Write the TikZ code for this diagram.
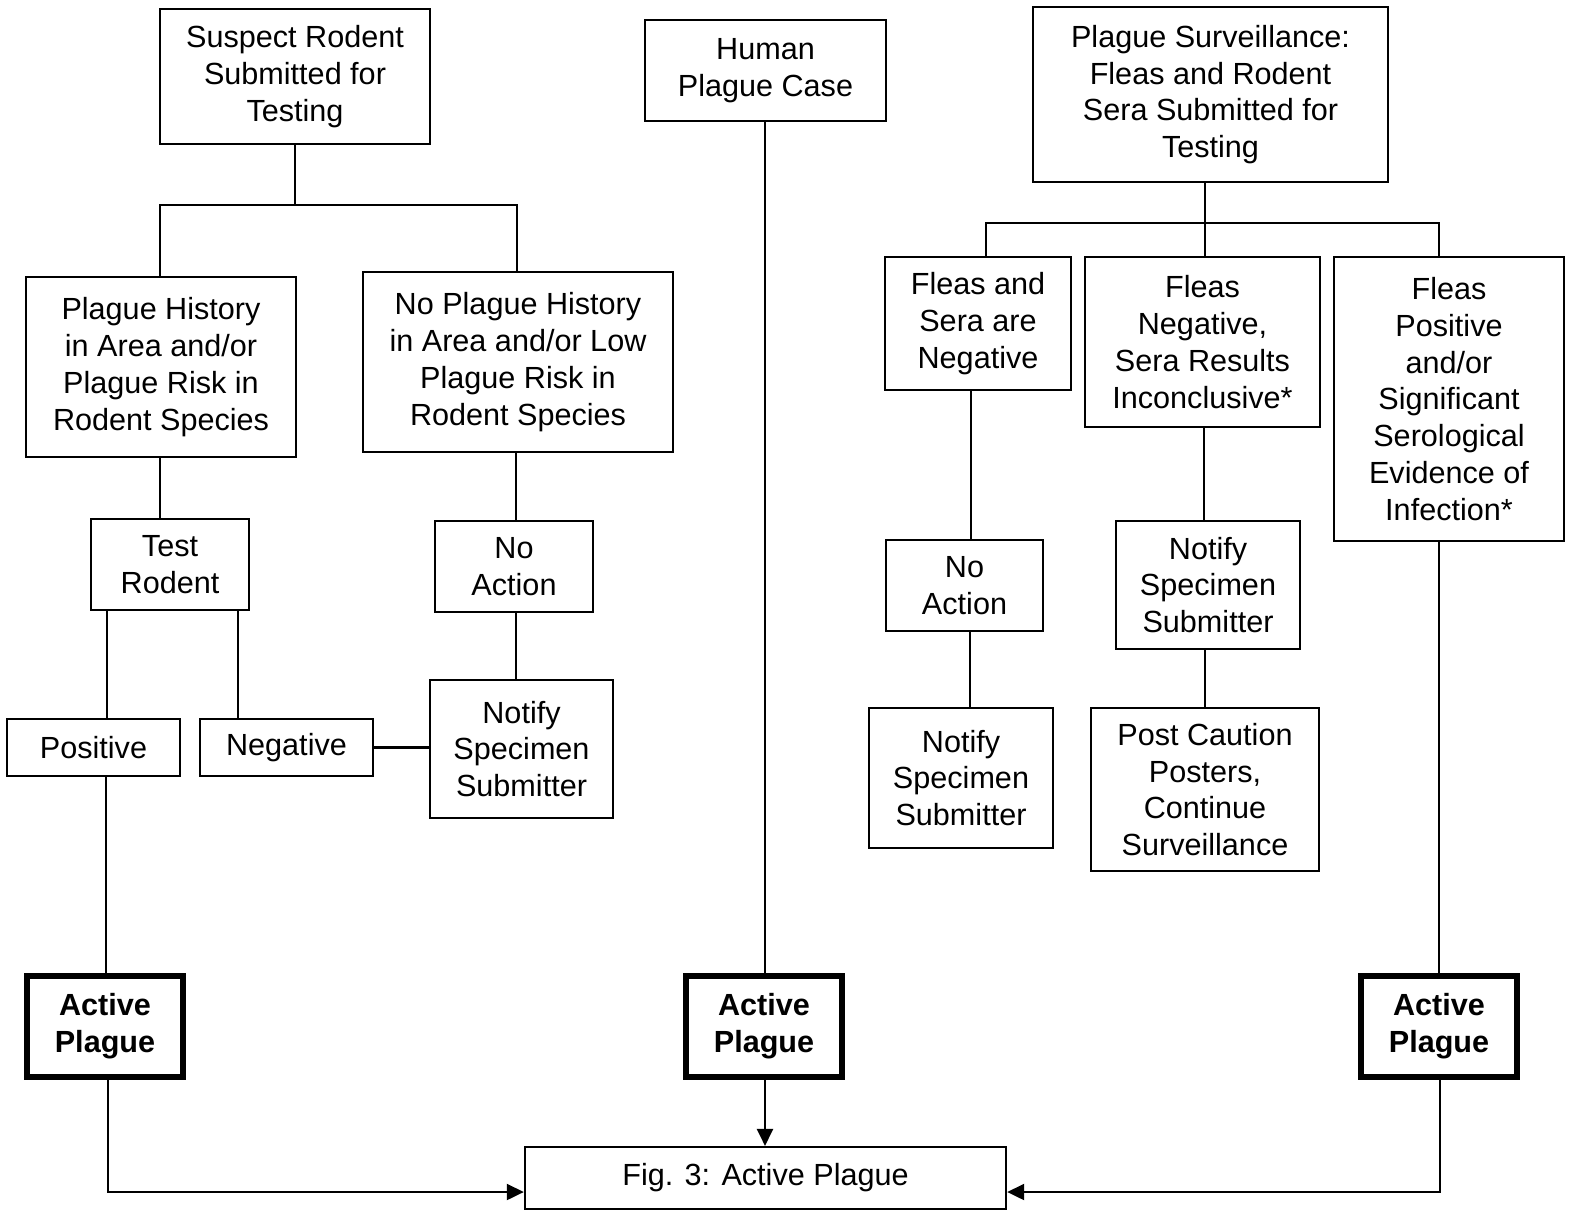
\documentclass[tikz,border=0pt]{standalone}
\usepackage{fontspec}
\setmainfont{Liberation Sans}
\usetikzlibrary{arrows.meta}
\begin{document}
\begin{tikzpicture}[x=0.01cm,y=-0.01cm]
    \tikzstyle{box}=[draw, line width=0.6pt, inner sep=0pt, align=center, font=\fontsize{8.7pt}{10.45pt}\selectfont]
    \tikzstyle{active}=[box, line width=1.7pt, font=\fontsize{8.7pt}{10.45pt}\selectfont\bfseries]
    \tikzstyle{link}=[line width=0.6pt]
    \tikzstyle{arr}=[link, -{Triangle[length=1.7mm,width=1.6mm]}]
    \useasboundingbox (0,0) rectangle (1570,1211);
    % top row
    \node[box, minimum width=2.70cm, minimum height=1.35cm] (sr) at (295,76.5) {Suspect Rodent\\Submitted for\\Testing};
    \node[box, minimum width=2.41cm, minimum height=1.01cm] (hp) at (765.5,70.5) {Human\\Plague Case};
    \node[box, minimum width=3.55cm, minimum height=1.75cm] (ps) at (1210.5,94.5) {Plague Surveillance:\\Fleas and Rodent\\Sera Submitted for\\Testing};
    % rodent branch
    \node[box, minimum width=2.70cm, minimum height=1.80cm] (ph) at (161,367) {Plague History\\in Area and/or\\Plague Risk in\\Rodent Species};
    \node[box, minimum width=3.10cm, minimum height=1.80cm] (nph) at (518,362) {No Plague History\\in Area and/or Low\\Plague Risk in\\Rodent Species};
    \node[box, minimum width=1.58cm, minimum height=0.91cm] (tr) at (170,564.5) {Test\\Rodent};
    \node[box, minimum width=1.58cm, minimum height=0.91cm] (na1) at (514,566.5) {No\\Action};
    \node[box, minimum width=1.73cm, minimum height=0.57cm] (pos) at (93.5,747.5) {Positive};
    \node[box, minimum width=1.73cm, minimum height=0.57cm] (neg) at (286.5,747.5) {Negative};
    \node[box, minimum width=1.83cm, minimum height=1.38cm] (ns1) at (521.5,749) {Notify\\Specimen\\Submitter};
    % surveillance branch
    \node[box, minimum width=1.86cm, minimum height=1.33cm] (fs) at (978,323.5) {Fleas and\\Sera are\\Negative};
    \node[box, minimum width=2.35cm, minimum height=1.70cm] (fn) at (1202.5,342) {Fleas\\Negative,\\Sera Results\\Inconclusive*};
    \node[box, minimum width=2.30cm, minimum height=2.84cm] (fp) at (1449,399) {Fleas\\Positive\\and/or\\Significant\\Serological\\Evidence of\\Infection*};
    \node[box, minimum width=1.57cm, minimum height=0.91cm] (na2) at (964.5,585.5) {No\\Action};
    \node[box, minimum width=1.84cm, minimum height=1.28cm] (ns2) at (1208,585) {Notify\\Specimen\\Submitter};
    \node[box, minimum width=1.84cm, minimum height=1.40cm] (ns3) at (961,778) {Notify\\Specimen\\Submitter};
    \node[box, minimum width=2.28cm, minimum height=1.63cm] (pc) at (1205,789.5) {Post Caution\\Posters,\\Continue\\Surveillance};
    % active plague
    \node[active, minimum width=1.56cm, minimum height=1.01cm] (ap1) at (105,1026.5) {Active\\Plague};
    \node[active, minimum width=1.56cm, minimum height=1.01cm] (ap2) at (764,1026.5) {Active\\Plague};
    \node[active, minimum width=1.56cm, minimum height=1.01cm] (ap3) at (1439,1026.5) {Active\\Plague};
    \node[box, minimum width=4.81cm, minimum height=0.62cm] (fig) at (765.5,1178) {Fig. 3: Active Plague};
    % connectors
    \draw[link] (sr.south) -- (295,205) coordinate (j1);
    \draw[link] (ph.north -| 160,0) |- (j1) -| (nph.north -| 517,0);
    \draw[link] (ph.south -| 160,0) -- (tr.north -| 160,0);
    \draw[link] (tr.south -| 107,0) -- (pos.north -| 107,0);
    \draw[link] (tr.south -| 238,0) -- (neg.north -| 238,0);
    \draw[link] (pos.south -| 106,0) -- (ap1.north -| 106,0);
    \draw[link] (neg.east) -- (neg.east -| ns1.west);
    \draw[link] (nph.south -| 516,0) -- (na1.north -| 516,0);
    \draw[link] (na1.south -| 516,0) -- (ns1.north -| 516,0);
    \draw[link] (ps.south -| 1205,0) -- (1205,223) coordinate (j2);
    \draw[link] (fs.north -| 986,0) |- (j2) -| (fp.north -| 1439,0);
    \draw[link] (j2) -- (fn.north -| 1205,0);
    \draw[link] (fs.south -| 971,0) -- (na2.north -| 971,0);
    \draw[link] (na2.south -| 970,0) -- (ns3.north -| 970,0);
    \draw[link] (fn.south -| 1204,0) -- (ns2.north -| 1204,0);
    \draw[link] (ns2.south -| 1205,0) -- (pc.north -| 1205,0);
    \draw[link] (fp.south -| 1439,0) -- (ap3.north -| 1439,0);
    \draw[link] (hp.south -| 765,0) -- (ap2.north -| 765,0);
    \draw[arr] (ap2.south -| 765,0) -- (fig.north -| 765,0);
    \draw[arr] (ap1.south -| 108,0) |- (fig.west |- 0,1192);
    \draw[arr] (ap3.south -| 1440,0) |- (fig.east |- 0,1192);
\end{tikzpicture}
\end{document}
